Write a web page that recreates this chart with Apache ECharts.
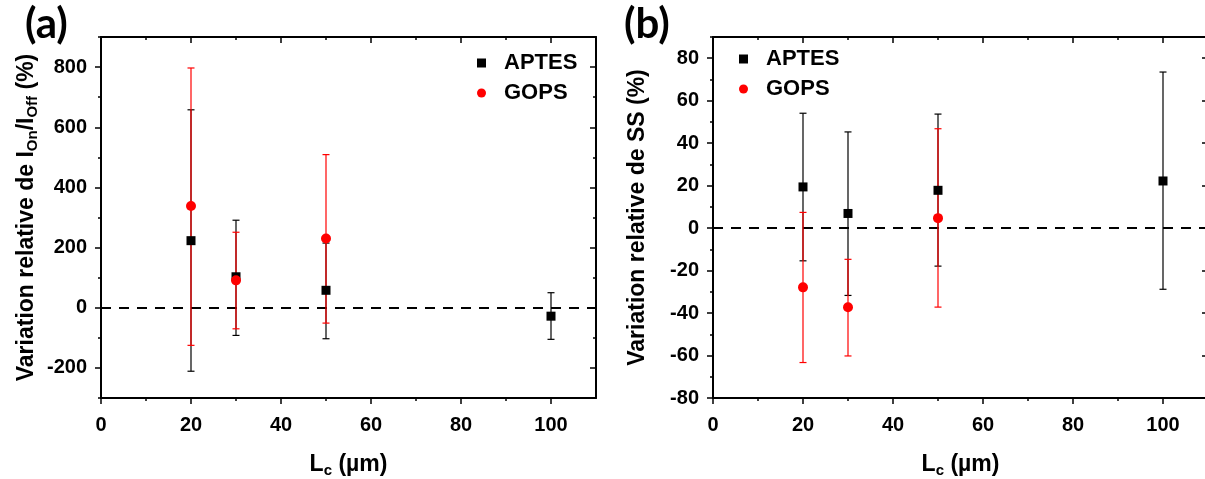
<!DOCTYPE html>
<html><head><meta charset="utf-8">
<script src="https://cdn.jsdelivr.net/npm/echarts@6/dist/echarts.min.js"></script>
<style>html,body{margin:0;padding:0;background:#fff}#c{width:1205px;height:479px}</style>
</head><body><div id="c"></div>
<script>
// ---------- data ----------
const lcAptes = [20, 30, 50, 100];
const lcGops = [20, 30, 50];
// panel (a): relative variation of Ion/Ioff (%)
const aptesOnOff = [223, 103, 58, -28];
const aptesOnOffLow = [-211, -92, -103, -105];
const aptesOnOffHigh = [658, 291, 215, 50];
const gopsOnOff = [338, 91, 230];
const gopsOnOffLow = [-125, -70, -51];
const gopsOnOffHigh = [797, 251, 509];
// panel (b): relative variation of SS (%)
const aptesSS = [19.4, 6.9, 17.8, 22.2];
const aptesSSLow = [-15.4, -31.7, -17.9, -28.8];
const aptesSSHigh = [54.1, 45.3, 53.7, 73.5];
const gopsSS = [-27.9, -37.3, 4.7];
const gopsSSLow = [-63.3, -60.2, -37.2];
const gopsSSHigh = [7.4, -14.7, 46.8];
// ticks
const xTicks = [0, 20, 40, 60, 80, 100];
const xMinorTicks = [10, 30, 50, 70, 90];
const yTicksA = [-200, 0, 200, 400, 600, 800];
const yMinorTicksA = [-300, -100, 100, 300, 500, 700, 900];
const yTicksB = [-80, -60, -40, -20, 0, 20, 40, 60, 80];
const yMinorTicksB = [-70, -50, -30, -10, 10, 30, 50, 70, 90];

// ---------- helpers ----------
const FONT = 'Liberation Sans';
const BLACK = '#000';
const RED = '#ff0000';
const lblStyle = {fontSize: 20, fontWeight: 'bold', color: BLACK, fontFamily: FONT};

function axisSet(kind, gridIndex, min, max, step, major, minor, labelMargin, nameCfg) {
  const pos = kind === 'x' ? ['bottom', 'top'] : ['left', 'right'];
  const axes = [];
  pos.forEach((p, k) => {
    const main = {
      type: 'value', gridIndex, position: p, min, max, interval: step,
      splitLine: {show: false},
      axisLine: {show: true, onZero: false, lineStyle: {color: BLACK, width: 2}},
      axisTick: {show: true, inside: k === 1, length: 6, customValues: major, lineStyle: {color: BLACK, width: 1.5}},
      axisLabel: Object.assign({show: k === 0, margin: labelMargin, customValues: major,
        formatter: v => (major.indexOf(v) >= 0 ? String(v) : '')}, lblStyle),
      z: 5
    };
    if (k === 0 && nameCfg) Object.assign(main, nameCfg);
    axes.push(main);
    axes.push({
      type: 'value', gridIndex, position: p, min, max, interval: step,
      splitLine: {show: false},
      axisLine: {show: false, onZero: false},
      axisTick: {show: true, inside: k === 1, length: 3, customValues: minor, lineStyle: {color: BLACK, width: 1.5}},
      axisLabel: {show: false}
    });
  });
  return axes;
}

function errSeries(name, xs, lo, hi, color, xi, yi, z) {
  return {
    type: 'custom', name, xAxisIndex: xi, yAxisIndex: yi, z,
    itemStyle: {color},
    data: xs.map((x, i) => [x, lo[i], hi[i]]),
    renderItem: (params, api) => {
      const x = api.value(0);
      const p1 = api.coord([x, api.value(2)]);
      const p2 = api.coord([x, api.value(1)]);
      const st = {stroke: color, lineWidth: 1.2};
      const w = 3.5;
      return {type: 'group', children: [
        {type: 'line', shape: {x1: p1[0], y1: p1[1], x2: p2[0], y2: p2[1]}, style: st},
        {type: 'line', shape: {x1: p1[0]-w, y1: p1[1], x2: p1[0]+w, y2: p1[1]}, style: st},
        {type: 'line', shape: {x1: p2[0]-w, y1: p2[1], x2: p2[0]+w, y2: p2[1]}, style: st}
      ]};
    },
    silent: true
  };
}

function pointSeries(name, xs, ys, symbol, size, color, xi, yi, z, zeroLine) {
  const s = {
    type: 'scatter', name, xAxisIndex: xi, yAxisIndex: yi, z,
    symbol, symbolSize: size, itemStyle: {color, opacity: 1},
    data: xs.map((x, i) => [x, ys[i]]), silent: true
  };
  if (zeroLine) {
    s.markLine = {silent: true, symbol: 'none', label: {show: false},
      lineStyle: {color: BLACK, type: [10, 8], width: 2},
      data: [{yAxis: 0}], z: 1};
  }
  return s;
}

const nameRich = {
  n: {fontSize: 23, fontWeight: 'bold', color: BLACK, fontFamily: FONT, verticalAlign: 'top', lineHeight: 25},
  s: {fontSize: 15, fontWeight: 'bold', color: BLACK, fontFamily: FONT, verticalAlign: 'top', lineHeight: 16, padding: [10, 0, 0, 0]}
};
const xName = {
  name: '{n|L}{s|c}{n| (µm)}', nameLocation: 'middle', nameGap: 55,
  nameTextStyle: {rich: nameRich}
};
const yNameA = {
  name: '{n|Variation relative de I}{s|On}{n|/I}{s|Off}{n| (%)}', nameLocation: 'middle', nameGap: 61, nameRotate: 90,
  nameTextStyle: {rich: nameRich}
};
const yNameB = {
  name: '{n|Variation relative de SS (%)}', nameLocation: 'middle', nameGap: 62, nameRotate: 90,
  nameTextStyle: {rich: nameRich}
};

const xAxes = [].concat(
  axisSet('x', 0, 0, 110, 10, xTicks, xMinorTicks, 17, xName),
  axisSet('x', 1, 0, 110, 10, xTicks, xMinorTicks, 17, xName)
);
const yAxes = [].concat(
  axisSet('y', 0, -300, 900, 100, yTicksA, yMinorTicksA, 14, yNameA),
  axisSet('y', 1, -80, 90, 10, yTicksB, yMinorTicksB, 14, yNameB)
);

const legendBase = {
  orient: 'vertical', itemWidth: 9, itemHeight: 9, itemGap: 8,
  textStyle: {fontSize: 22, fontWeight: 'bold', color: BLACK, fontFamily: FONT, lineHeight: 22, padding: [0, 0, 0, 13]},
  data: [
    {name: 'APTES', icon: 'rect', itemStyle: {color: BLACK}},
    {name: 'GOPS', icon: 'circle', itemStyle: {color: RED}}
  ],
  selectedMode: false
};

const option = {
  animation: false,
  backgroundColor: '#fff',
  color: [BLACK, RED],
  grid: [
    {left: 101, top: 37, width: 495, height: 361, containLabel: false, outerBoundsMode: 'none'},
    {left: 713, top: 37, width: 495, height: 361, containLabel: false, outerBoundsMode: 'none'}
  ],
  xAxis: xAxes,
  yAxis: yAxes,
  legend: [
    Object.assign({left: 472, top: 47}, legendBase),
    Object.assign({left: 734, top: 43}, legendBase)
  ],
  graphic: [
    {type: 'text', left: 25, top: 3, style: {text: '(a)', font: 'bold 42px Lato', fill: BLACK}},
    {type: 'text', left: 624, top: 3, style: {text: '(b)', font: 'bold 42px Lato', fill: BLACK}}
  ],
  series: [
    errSeries('APTES', lcAptes, aptesOnOffLow, aptesOnOffHigh, BLACK, 0, 0, 2),
    errSeries('GOPS', lcGops, gopsOnOffLow, gopsOnOffHigh, RED, 0, 0, 3),
    pointSeries('APTES', lcAptes, aptesOnOff, 'rect', 9, BLACK, 0, 0, 4, true),
    pointSeries('GOPS', lcGops, gopsOnOff, 'circle', 10, RED, 0, 0, 5, false),
    errSeries('APTES', lcAptes, aptesSSLow, aptesSSHigh, BLACK, 4, 4, 2),
    errSeries('GOPS', lcGops, gopsSSLow, gopsSSHigh, RED, 4, 4, 3),
    pointSeries('APTES', lcAptes, aptesSS, 'rect', 9, BLACK, 4, 4, 4, true),
    pointSeries('GOPS', lcGops, gopsSS, 'circle', 10, RED, 4, 4, 5, false)
  ]
};
const chart = echarts.init(document.getElementById('c'), null, {renderer: 'canvas'});
chart.setOption(option);
</script>
</body></html>
